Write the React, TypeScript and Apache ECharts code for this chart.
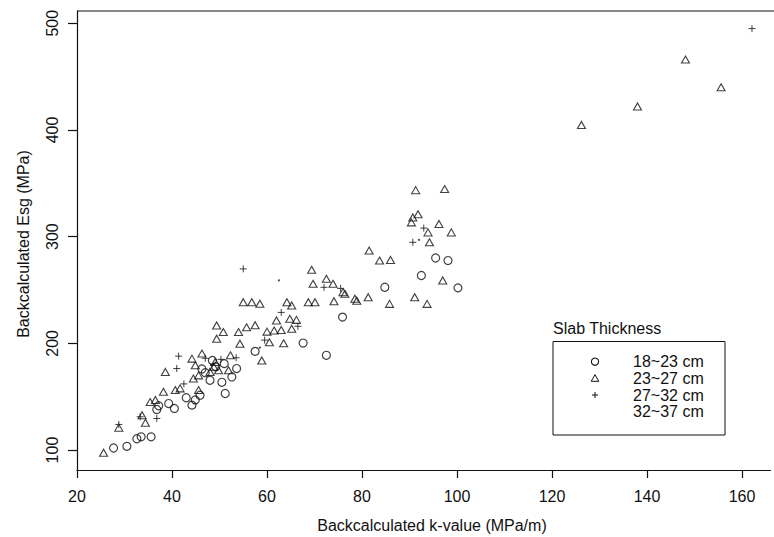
import React, { useEffect, useRef } from "react";
import * as echarts from "echarts";

// ---- Data ----
const X_TICKS = [20, 40, 60, 80, 100, 120, 140, 160];
const Y_TICKS = [100, 200, 300, 400, 500];

const LEGEND_TITLE = "Slab Thickness";
const SERIES_NAMES = ["18~23 cm", "23~27 cm", "27~32 cm", "32~37 cm"];

// 18~23 cm (circles)
const slab18to23 = [
  [27.7, 101.9], [30.5, 103.5], [32.6, 110.6], [33.5, 112.4], [35.6, 112.4],
  [36.8, 138], [37.2, 141.5], [39.3, 143.6], [40.5, 139], [44.2, 142.1],
  [44.9, 147], [45.9, 151.4], [51.2, 153], [48, 165.4], [50.5, 163.5],
  [53.6, 176.4], [52.6, 168.5], [47, 172.5], [49.2, 178], [51, 181],
  [46.3, 176], [57.5, 192.5], [67.6, 200.3], [72.5, 188.8], [75.9, 224.6],
  [84.8, 252.6], [92.5, 263.6], [95.5, 280], [98.1, 277.6], [100.2, 252],
  [48.5, 184], [43, 149],
];

// 23~27 cm (triangles)
const slab23to27 = [
  [25.6, 97.5], [28.8, 121], [33.7, 132.7], [34.4, 125.5], [35.4, 145],
  [36.5, 147], [38.2, 154.6], [40.7, 156.2], [41.7, 157.8], [45.6, 156.2],
  [44.5, 167], [45.6, 170], [44.9, 179.4], [46.3, 190.4], [44.2, 185.7],
  [49.1, 182.6], [48.8, 178], [48, 173.2], [49.8, 174.8], [51.9, 174.8],
  [52.3, 188.8], [38.6, 173.2], [49.4, 216.8], [49.4, 204.4], [50.8, 210.6],
  [54, 210.6], [54.3, 199.7], [55.7, 215], [57.5, 217], [58.9, 184],
  [60, 211], [61.5, 212], [63, 212.5], [62, 221.5], [64.8, 223],
  [66.2, 222], [65.2, 213.7], [63.5, 200], [60.5, 201], [55, 238.6],
  [56.8, 238.6], [58.5, 237.1], [64.2, 238.6], [65.2, 235.5], [68.7, 238.6],
  [70.1, 238.6], [69.4, 268.9], [69.7, 255.8], [72.5, 260.5], [73.9, 255.8],
  [76, 248], [74.1, 239.5], [78.9, 240], [76.4, 246.4], [78.5, 241.8],
  [81.3, 243.3], [85.8, 237], [91.1, 243.3], [93.7, 237], [81.5, 287],
  [83.7, 277.6], [86, 278.2], [91.3, 343.6], [97.4, 344.6], [90.7, 318],
  [90.4, 313.4], [91.8, 321], [96.2, 311.9], [93.9, 304], [98.8, 304],
  [94.2, 294.7], [97, 258.9], [126.2, 404.7], [138, 422], [148.1, 466],
  [155.6, 440],
];

// 27~32 cm (plus marks)
const slab27to32 = [
  [28.8, 124], [33.3, 131.2], [36.8, 129.6], [41, 176.4], [41.4, 188],
  [47, 186], [50.3, 185], [53.5, 186.5], [42.5, 162], [55, 269.8],
  [63, 229], [66.5, 216], [72, 252.5], [75.5, 251.5], [90.7, 294.7],
  [93, 308], [162.1, 495], [59.5, 203],
];

// 32~37 cm (tiny dots, hardly visible)
const slab32to37 = [
  [62.5, 259], [48.2, 179.5], [58.5, 196], [92, 297],
];

const FONT = "'Liberation Sans', Arial, Helvetica, sans-serif";
const INK = "#111";

export default function App() {
  const ref = useRef<HTMLDivElement>(null);

  useEffect(() => {
    document.body.style.margin = "0";
    if (!ref.current) return;
    const chart = echarts.init(ref.current, undefined, { renderer: "svg" });

    const plusPath = "path://M4,0L4,8M0,4L8,4";

    const legendRowsY = [361.7, 378.3, 395, 411.7];
    const legendMarkX = 595;
    const legendTextX = 633;

    const legendMarks: any[] = [
      {
        type: "circle",
        shape: { cx: legendMarkX, cy: legendRowsY[0], r: 3.6 },
        style: { fill: "none", stroke: INK, lineWidth: 1.1 },
      },
      {
        type: "polygon",
        shape: {
          points: [
            [legendMarkX, legendRowsY[1] - 3.6],
            [legendMarkX - 3.8, legendRowsY[1] + 3],
            [legendMarkX + 3.8, legendRowsY[1] + 3],
          ],
        },
        style: { fill: "none", stroke: INK, lineWidth: 1 },
      },
      {
        type: "line",
        shape: { x1: legendMarkX - 3, y1: legendRowsY[2], x2: legendMarkX + 3, y2: legendRowsY[2] },
        style: { stroke: INK, lineWidth: 1 },
      },
      {
        type: "line",
        shape: { x1: legendMarkX, y1: legendRowsY[2] - 3, x2: legendMarkX, y2: legendRowsY[2] + 3 },
        style: { stroke: INK, lineWidth: 1 },
      },
    ];

    const legendTexts = SERIES_NAMES.map((n, i) => ({
      type: "text",
      x: legendTextX,
      y: legendRowsY[i],
      style: {
        text: n,
        font: `16px ${FONT}`,
        fill: INK,
        textAlign: "left",
        textVerticalAlign: "middle",
      },
    }));

    const option: any = {
      animation: false,
      backgroundColor: "#fff",
      grid: {
        left: 77,
        top: 11,
        width: 693.5,
        height: 459,
        outerBoundsMode: "none",
        containLabel: false,
      },
      xAxis: {
        type: "value",
        min: 20,
        max: 166,
        axisLine: { show: true, onZero: false, lineStyle: { color: INK, width: 1.2 } },
        axisTick: {
          show: true,
          inside: false,
          length: 8,
          customValues: X_TICKS,
          lineStyle: { color: INK, width: 1.2 },
        },
        axisLabel: {
          customValues: X_TICKS,
          margin: 18,
          fontSize: 16,
          fontFamily: FONT,
          color: INK,
        },
        splitLine: { show: false },
      },
      yAxis: {
        type: "value",
        min: 81.3,
        max: 511.5,
        axisLine: { show: true, onZero: false, lineStyle: { color: INK, width: 1.2 } },
        axisTick: {
          show: true,
          inside: false,
          length: 9,
          customValues: Y_TICKS,
          lineStyle: { color: INK, width: 1.2 },
        },
        axisLabel: {
          customValues: Y_TICKS,
          rotate: 90,
          margin: 17,
          fontSize: 16,
          fontFamily: FONT,
          color: INK,
        },
        splitLine: { show: false },
      },
      series: [
        {
          name: SERIES_NAMES[0],
          type: "scatter",
          data: slab18to23,
          symbol: "circle",
          symbolSize: 8,
          itemStyle: { color: "rgba(0,0,0,0)", borderColor: INK, borderWidth: 1.2 },
        },
        {
          name: SERIES_NAMES[1],
          type: "scatter",
          data: slab23to27,
          symbol: "triangle",
          symbolSize: [8, 7],
          itemStyle: { color: "rgba(0,0,0,0)", borderColor: INK, borderWidth: 1.1 },
        },
        {
          name: SERIES_NAMES[2],
          type: "scatter",
          data: slab27to32,
          symbol: plusPath,
          symbolSize: 7,
          itemStyle: { color: "rgba(0,0,0,0)", borderColor: INK, borderWidth: 1 },
        },
        {
          name: SERIES_NAMES[3],
          type: "scatter",
          data: slab32to37,
          symbol: "circle",
          symbolSize: 2,
          itemStyle: { color: INK },
        },
      ],
      graphic: [
        // top frame line
        {
          type: "line",
          shape: { x1: 77, y1: 11, x2: 774, y2: 11 },
          style: { stroke: INK, lineWidth: 1.2 },
        },
        // axis titles
        {
          type: "text",
          x: 432,
          y: 525,
          style: {
            text: "Backcalculated k-value (MPa/m)",
            font: `16px ${FONT}`,
            fill: INK,
            textAlign: "center",
            textVerticalAlign: "middle",
          },
        },
        {
          type: "text",
          x: 23,
          y: 244,
          rotation: Math.PI / 2,
          style: {
            text: "Backcalculated Esg (MPa)",
            font: `16px ${FONT}`,
            fill: INK,
            textAlign: "center",
            textVerticalAlign: "middle",
          },
        },
        // legend
        {
          type: "text",
          x: 553,
          y: 328,
          style: {
            text: LEGEND_TITLE,
            font: `16px ${FONT}`,
            fill: INK,
            textAlign: "left",
            textVerticalAlign: "middle",
          },
        },
        {
          type: "rect",
          shape: { x: 553, y: 341.5, width: 172, height: 93.5 },
          style: { fill: "none", stroke: INK, lineWidth: 1 },
        },
        ...legendMarks,
        ...legendTexts,
      ],
    };

    chart.setOption(option);
    return () => chart.dispose();
  }, []);

  return <div ref={ref} style={{ width: 774, height: 537 }} />;
}
